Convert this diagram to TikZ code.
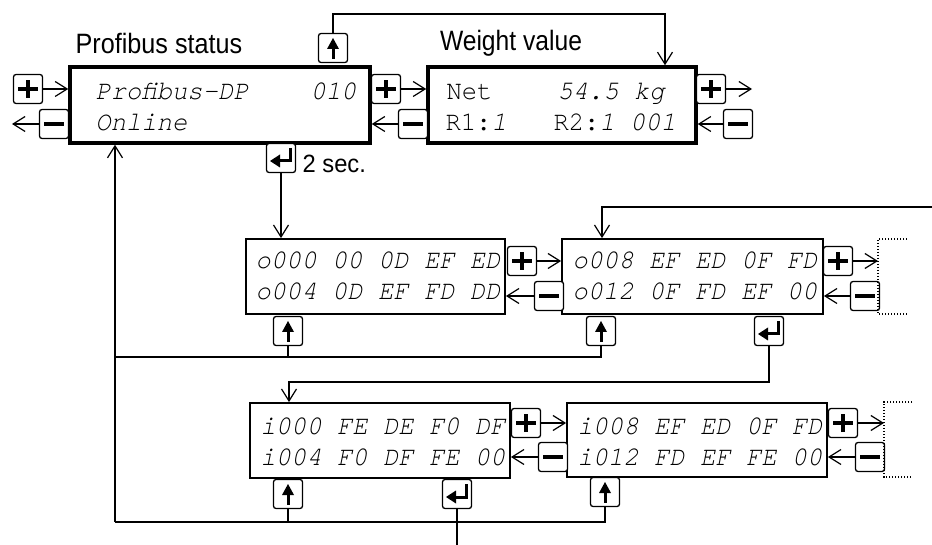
\documentclass[tikz,border=0pt]{standalone}
\usepackage{fontspec}
\setmainfont{Liberation Sans}
\setmonofont{TeX Gyre Cursor}
\usetikzlibrary{arrows.meta}
\newcommand\disptext[1]{\scalebox{0.945}[1]{#1}}
\begin{document}
\begin{tikzpicture}[x=1pt,y=-1pt,line width=1.2pt,
  arr/.style={-{Straight Barb[length=12pt,width=15pt]}},
  lbl/.style={font=\fontsize{28pt}{32pt}\selectfont, inner sep=0pt},
  dsp/.style={font=\ttfamily\fontsize{27pt}{30pt}\selectfont, inner sep=0pt, anchor=base west},
  boxthick/.style={draw, line width=3.5pt, inner sep=0pt},
  boxthin/.style={draw, line width=1.8pt, inner sep=0pt},
  dots/.style={line width=1.4pt, dash pattern=on 1.4pt off 1.6pt},
  key/.style={draw, fill=white, line width=1.3pt, rounded corners=2.5pt, minimum width=29pt, minimum height=29pt, inner sep=0pt},
  kplus/.style={key, path picture={
    \draw[black, line width=3.2pt, sharp corners] ([xshift=-10pt]path picture bounding box.center) -- ([xshift=10pt]path picture bounding box.center)
      ([yshift=-9pt]path picture bounding box.center) -- ([yshift=9pt]path picture bounding box.center);}},
  kminus/.style={key, path picture={
    \draw[black, line width=3.2pt, sharp corners] ([xshift=-10pt]path picture bounding box.center) -- ([xshift=10pt]path picture bounding box.center);}},
  kup/.style={key, path picture={
    \fill[black, sharp corners] ([yshift=10pt]path picture bounding box.center) -- ([xshift=-6pt,yshift=-1pt]path picture bounding box.center) -- ([xshift=6pt,yshift=-1pt]path picture bounding box.center) -- cycle;
    \draw[black, line width=3pt, sharp corners] ([yshift=1pt]path picture bounding box.center) -- ([yshift=-11pt]path picture bounding box.center);}},
  kenter/.style={key, path picture={
    \draw[black, line width=3pt, sharp corners] ([xshift=9.5pt,yshift=10pt]path picture bounding box.center) -- ([xshift=9.5pt,yshift=-3pt]path picture bounding box.center) -- ([xshift=-2pt,yshift=-3pt]path picture bounding box.center);
    \fill[black, sharp corners] ([xshift=-11pt,yshift=-3pt]path picture bounding box.center) -- ([xshift=-1pt,yshift=3.5pt]path picture bounding box.center) -- ([xshift=-1pt,yshift=-9.5pt]path picture bounding box.center) -- cycle;}},
]
\useasboundingbox (0,0) rectangle (932,545);

% labels
\node[lbl] (lab1) at (159,43) {\scalebox{0.9}[1]{Profibus status}};
\node[lbl] (lab2) at (511,43) {\scalebox{0.88}[1]{Weight value}};
\node[lbl, anchor=west, font=\fontsize{25pt}{30pt}\selectfont] (lab3) at (302,164) {\scalebox{0.95}[1]{2 sec.}};

% boxes
\node[boxthick, minimum width=300pt, minimum height=76pt] (b1) at (220,105) {};
\node[boxthick, minimum width=268pt, minimum height=76pt] (b2) at (562,105) {};
\node[boxthin, minimum width=259pt, minimum height=75pt] (b3) at (375.5,276.5) {};
\node[boxthin, minimum width=261pt, minimum height=75pt] (b4) at (692.5,276.5) {};
\node[boxthin, minimum width=260pt, minimum height=75pt] (b5) at (380,440.5) {};
\node[boxthin, minimum width=260pt, minimum height=74pt] (b6) at (697,440) {};

% display texts
\node[dsp] (t1a) at (95,100) {\disptext{\itshape Profibus-DP}};
\node[dsp] (t1c) at (310,100) {\disptext{\itshape 010}};
\node[dsp] (t1b) at (95,131) {\disptext{\itshape Online}};
\node[dsp] (t2a) at (446,100) {\disptext{Net}};
\node[dsp] (t2c) at (557,100) {\disptext{\itshape 54.5 kg}};
\node[dsp] (t2b) at (445,131) {\disptext{R1:\textit{1}}};
\node[dsp] (t2d) at (553,131) {\disptext{R2:\textit{1 001}}};
\node[dsp] (t3a) at (255,269) {\disptext{\itshape o000 00 0D EF ED}};
\node[dsp] (t3b) at (255,300) {\disptext{\itshape o004 0D EF FD DD}};
\node[dsp] (t4a) at (572,269) {\disptext{\itshape o008 EF ED 0F FD}};
\node[dsp] (t4b) at (572,300) {\disptext{\itshape o012 0F FD EF 00}};
\node[dsp] (t5a) at (260,434) {\disptext{\itshape i000 FE DE F0 DF}};
\node[dsp] (t5b) at (260,465) {\disptext{\itshape i004 F0 DF FE 00}};
\node[dsp] (t6a) at (577,434) {\disptext{\itshape i008 EF ED 0F FD}};
\node[dsp] (t6b) at (577,465) {\disptext{\itshape i012 FD EF FE 00}};

% keys
\node[kplus]  (kp0) at (28,89) {};
\node[kminus] (km0) at (54,124) {};
\node[kup]    (kup1) at (333,48) {};
\node[kplus]  (kp1) at (386,89) {};
\node[kminus] (km1) at (413,124) {};
\node[kenter] (ken1) at (281,158) {};
\node[kplus]  (kp2) at (711,89) {};
\node[kminus] (km2) at (738,124) {};

\node[kplus]  (kp3) at (522,261) {};
\node[kminus] (km3) at (549,296) {};
\node[kup]    (kup3) at (288,331) {};
\node[kplus]  (kp4) at (838,261) {};
\node[kminus] (km4) at (865,296) {};
\node[kup]    (kup4) at (601,331) {};
\node[kenter] (ken4) at (769,331) {};

\node[kplus]  (kp5) at (526,423) {};
\node[kminus] (km5) at (553,457) {};
\node[kup]    (kup5) at (288,494) {};
\node[kenter] (ken5) at (457,494) {};
\node[kplus]  (kp6) at (843,423) {};
\node[kminus] (km6) at (870,457) {};
\node[kup]    (kup6) at (605,492) {};

% coordinates
\coordinate (l0) at (12,124);
\coordinate (r0) at (752,89);
\coordinate (t0) at (333,14);
\coordinate (t1) at (665,14);
\coordinate (e0) at (932,207);
\coordinate (e1) at (602,207);
\coordinate (f1) at (769,382);
\coordinate (f2) at (289,382);
\coordinate (j1) at (115,357);
\coordinate (j2) at (115,522);
\coordinate (h1) at (457,545);
\coordinate (dA) at (878,239);
\coordinate (dB) at (878,314);
\coordinate (dA2) at (907,239);
\coordinate (dB2) at (907,314);
\coordinate (gA) at (884,402);
\coordinate (gB) at (884,477);
\coordinate (gA2) at (912,402);
\coordinate (gB2) at (912,477);

% top row connectors
\draw[arr] (kp0.east) -- (kp0.east -| b1.west);
\draw[arr] (km0.west) -- (l0);
\draw[arr] (kp1.east) -- (kp1.east -| b2.west);
\draw[arr] (km1.west) -- (km1.west -| b1.east);
\draw[arr] (kp2.east) -- (r0);
\draw[arr] (km2.west) -- (km2.west -| b2.east);
\draw[arr] (kup1.north) -- (t0) -- (t1) -- (t1 |- b2.north);
\draw[arr] (ken1.south) -- (ken1.south |- b3.north);

% middle row connectors
\draw[arr] (kp3.east) -- (kp3.east -| b4.west);
\draw[arr] (km3.west) -- (km3.west -| b3.east);
\draw[dots] (dA2) -- (dA) -- (dB) -- (dB2);
\draw[arr] (kp4.east) -- (kp4.east -| dA);
\draw[arr] (km4.west) -- (km4.west -| b4.east);
\draw[arr] (e0) -- (e1) -- (e1 |- b4.north);
\draw[arr] (ken4.south) -- (f1) -- (f2) -- (f2 |- b5.north);

% bottom row connectors
\draw[arr] (kp5.east) -- (kp5.east -| b6.west);
\draw[arr] (km5.west) -- (km5.west -| b5.east);
\draw[dots] (gA2) -- (gA) -- (gB) -- (gB2);
\draw[arr] (kp6.east) -- (kp6.east -| gA);
\draw[arr] (km6.west) -- (km6.west -| b6.east);
\draw (ken5.south) -- (h1);

% return lines
\draw (kup4.south) |- (j1);
\draw (kup3.south) -- (kup3.south |- j1);
\draw (kup6.south) |- (j2);
\draw (kup5.south) -- (kup5.south |- j2);
\draw[arr] (j2) -- (j2 |- b1.south);
\end{tikzpicture}
\end{document}
